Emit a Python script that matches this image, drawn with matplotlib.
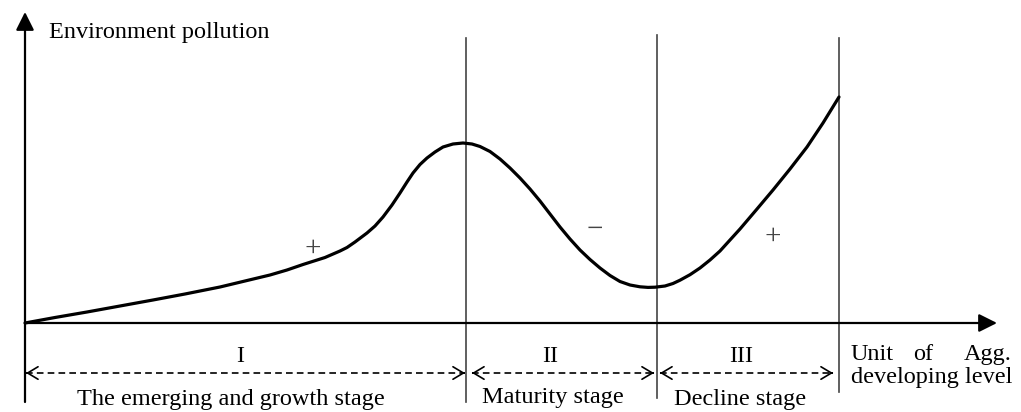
#!/usr/bin/env python3

import matplotlib
matplotlib.use('Agg')
import matplotlib.pyplot as plt

# Curve (developing level vs. environment pollution)
develop_level = [0.00, 0.30, 0.62, 0.95, 1.28, 1.60, 1.95, 2.20, 2.45, 2.62,
                 2.78, 3.00, 3.15, 3.22, 3.30, 3.36, 3.42, 3.50, 3.58, 3.67,
                 3.75, 3.82, 3.88, 3.95, 4.02, 4.10, 4.18, 4.28, 4.38, 4.47,
                 4.55, 4.65, 4.75, 4.85, 4.95, 5.05, 5.15, 5.25, 5.35, 5.45,
                 5.55, 5.65, 5.75, 5.85, 5.95, 6.05, 6.15, 6.23, 6.30, 6.40,
                 6.48, 6.55, 6.65, 6.75, 6.85, 6.95, 7.05, 7.15, 7.32, 7.48,
                 7.65, 7.82, 7.98, 8.14]
pollution = [0.000, 0.055, 0.110, 0.170, 0.230, 0.290, 0.360, 0.420, 0.480, 0.530,
             0.585, 0.655, 0.720, 0.755, 0.810, 0.855, 0.900, 0.970, 1.060, 1.180,
             1.300, 1.410, 1.500, 1.585, 1.650, 1.710, 1.760, 1.790, 1.800, 1.790,
             1.765, 1.715, 1.640, 1.550, 1.450, 1.340, 1.220, 1.090, 0.960, 0.840,
             0.730, 0.635, 0.550, 0.475, 0.415, 0.380, 0.362, 0.356, 0.358, 0.370,
             0.395, 0.428, 0.483, 0.550, 0.630, 0.720, 0.830, 0.940, 1.140, 1.330,
             1.540, 1.760, 2.000, 2.260]

# Stage boundaries and labels
stage_edges = [4.41, 6.32, 8.14]
stage_tops = [2.85, 2.88, 2.85]
stage_bottoms = [-0.79, -0.75, -0.69]
stage_numerals = ['I', 'II', 'III']
numeral_x = [2.15, 5.25, 7.16]
stage_names = ['The emerging and growth stage', 'Maturity stage', 'Decline stage']
name_x = [2.06, 5.28, 7.15]
name_y = [-0.82, -0.80, -0.82]
arrow_spans = [(0.01, 4.40), (4.47, 6.29), (6.35, 8.08)]

# Sign of slope in each stage
sign_labels = ['+', '\u2212', '+']
sign_x = [2.88, 5.70, 7.48]
sign_y = [0.74, 0.93, 0.86]

plt.rcParams['font.family'] = ['Liberation Serif', 'DejaVu Serif']

fig = plt.figure(figsize=(10.21, 4.12), dpi=100)
ax = fig.add_axes([0, 0, 1, 1])
ax.set_xlim(-0.25, 9.96)
ax.set_ylim(-0.89, 3.23)
ax.axis('off')

axis_head = '-|>,head_length=1.1,head_width=0.55'

# Axes with arrows
ax.annotate('', xy=(0, 3.11), xytext=(0, -0.79),
            arrowprops=dict(arrowstyle=axis_head, color='black', lw=1.6,
                            shrinkA=0, shrinkB=0, mutation_scale=10))
ax.annotate('', xy=(9.72, 0), xytext=(0, 0),
            arrowprops=dict(arrowstyle=axis_head, color='black', lw=1.6,
                            shrinkA=0, shrinkB=0, mutation_scale=10))

# Stage dividers
for xe, top, bot in zip(stage_edges, stage_tops, stage_bottoms):
    ax.plot([xe, xe], [bot, top], color='#444444', lw=1.2, zorder=1)

# Curve
ax.plot(develop_level, pollution, color='black', lw=2.3,
        solid_capstyle='round', solid_joinstyle='round', zorder=3)

# Dashed double arrows under the x axis
arrow_y = -0.50
open_head = '->,head_length=0.75,head_width=0.45'
for x0, x1 in arrow_spans:
    ax.plot([x0, x1], [arrow_y, arrow_y], color='black', lw=1.2,
            linestyle=(0, (4, 2.5)))
    ax.annotate('', xy=(x1, arrow_y), xytext=(x1 - 0.01, arrow_y),
                arrowprops=dict(arrowstyle=open_head, color='black', lw=1.2,
                                shrinkA=0, shrinkB=0, mutation_scale=10))
    ax.annotate('', xy=(x0, arrow_y), xytext=(x0 + 0.01, arrow_y),
                arrowprops=dict(arrowstyle=open_head, color='black', lw=1.2,
                                shrinkA=0, shrinkB=0, mutation_scale=10))

# Text
fs = 17.5
ax.text(0.24, 2.85, 'Environment pollution', fontsize=fs, ha='left', va='baseline')
for xn, lab in zip(numeral_x, stage_numerals):
    ax.text(xn, -0.39, lab, fontsize=fs, ha='center', va='baseline')
for xn, yn, lab in zip(name_x, name_y, stage_names):
    ax.text(xn, yn, lab, fontsize=fs, ha='center', va='baseline')
for xs, ys, lab in zip(sign_x, sign_y, sign_labels):
    ax.text(xs, ys, lab, fontsize=21, ha='center', va='center', color='#444444')

ax.text(8.26, -0.37, 'Unit', fontsize=fs, ha='left', va='baseline')
ax.text(8.98, -0.37, 'of', fontsize=fs, ha='center', va='baseline')
ax.text(9.87, -0.37, 'Agg.', fontsize=fs, ha='right', va='baseline')
ax.text(8.26, -0.60, 'developing level', fontsize=fs, ha='left', va='baseline')

plt.savefig('out.png', dpi=100)
plt.close()
